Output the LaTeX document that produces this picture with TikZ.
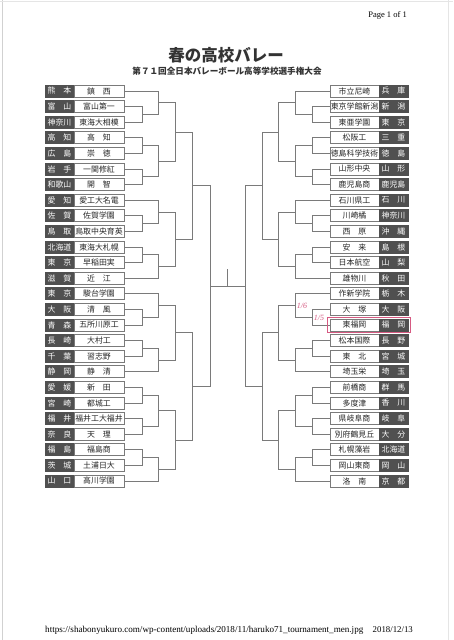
\documentclass[tikz,border=0pt]{standalone}
\usepackage{fontspec}
\setmainfont{Liberation Serif}
\newfontfamily\jp{Noto Sans CJK JP}
\usetikzlibrary{calc}
\definecolor{boxgray}{HTML}{505050}
\definecolor{linegray}{HTML}{7A7A7A}
\definecolor{redc}{HTML}{D65A82}
\tikzset{
  namebox/.style={draw=linegray, line width=0.7pt, fill=white, minimum width=50pt, minimum height=12pt, inner sep=0pt, font=\jp\fontsize{7.9}{8}\selectfont, text=black!85},
  rnamebox/.style={namebox, minimum width=49pt},
  prefbox/.style={fill=boxgray, draw=boxgray, line width=0.7pt, minimum width=29pt, minimum height=12pt, inner sep=0pt, font=\jp\fontsize{7.9}{8}\selectfont, text=white},
  conn/.style={draw=linegray, line width=0.8pt},
  note/.style={text=redc, inner sep=0pt, font=\fontsize{8}{8}\selectfont\itshape},
}
\newcommand\mtch[4]{%
  \coordinate (#1m) at ($(#2)!.5!(#3)$);
  \coordinate (#1) at (#1m -| #4);
  \draw[conn] (#2) -| (#1);
  \draw[conn] (#3) -| (#1);
}
\begin{document}
\begin{tikzpicture}[x=1pt,y=-1pt]
\useasboundingbox (0,0) rectangle (453,640);
\fill[white] (0,0) rectangle (453,640);
% page edges of the scan
\draw[black!18, line width=0.8pt] (2.5,0) -- (2.5,640);
\draw[black!10, line width=0.8pt] (0,1) -- (453,1);
\draw[black!10, line width=0.6pt] (448,0) -- (448,640);

% header
\node[anchor=east, inner sep=0pt, font=\fontsize{8.5}{9}\selectfont] (page) at (407,15) {Page 1 of 1};
\node[inner sep=0pt, font=\jp\bfseries\fontsize{16.5}{17}\selectfont, text=black!80] (title) at (226,55) {春の高校バレー};
\node[inner sep=0pt, font=\jp\bfseries\fontsize{8.6}{9}\selectfont, text=black!80] (sub) at (227,71.5) {第７１回全日本バレーボール高等学校選手権大会};

% left teams
\foreach \i/\p/\n in {1/熊　本/鎮　西, 2/富　山/富山第一, 3/神奈川/東海大相模, 4/高　知/高　知, 5/広　島/崇　徳, 6/岩　手/一関修紅, 7/和歌山/開　智, 8/愛　知/愛工大名電, 9/佐　賀/佐賀学園, 10/鳥　取/鳥取中央育英, 11/北海道/東海大札幌, 12/東　京/早稲田実, 13/滋　賀/近　江, 14/東　京/駿台学園, 15/大　阪/清　風, 16/青　森/五所川原工, 17/長　崎/大村工, 18/千　葉/習志野, 19/静　岡/静　清, 20/愛　媛/新　田, 21/宮　崎/都城工, 22/福　井/福井工大福井, 23/奈　良/天　理, 24/福　島/福島商, 25/茨　城/土浦日大, 26/山　口/高川学園}{
  \node[prefbox] (PL\i) at (59.5,{91+(\i-1)*15.6}) {\p};
  \node[namebox] (L\i) at (99,{91+(\i-1)*15.6}) {\n};
}
% right teams
\foreach \i/\n/\p in {1/市立尼崎/兵　庫, 2/東京学館新潟/新　潟, 3/東亜学園/東　京, 4/松阪工/三　重, 5/徳島科学技術/徳　島, 6/山形中央/山　形, 7/鹿児島商/鹿児島, 8/石川県工/石　川, 9/川崎橘/神奈川, 10/西　原/沖　縄, 11/安　来/島　根, 12/日本航空/山　梨, 13/雄物川/秋　田, 14/作新学院/栃　木, 15/大　塚/大　阪, 16/東福岡/福　岡, 17/松本国際/長　野, 18/東　北/宮　城, 19/埼玉栄/埼　玉, 20/前橋商/群　馬, 21/多度津/香　川, 22/県岐阜商/岐　阜, 23/別府鶴見丘/大　分, 24/札幌藻岩/北海道, 25/岡山東商/岡　山, 26/洛　南/京　都}{
  \node[rnamebox] (R\i) at (354.5,{91+(\i-1)*15.6}) {\n};
  \node[prefbox] (PR\i) at (393.5,{91+(\i-1)*15.6}) {\p};
}

% column positions
\coordinate (xl1) at (142,0); \coordinate (xl2) at (158,0); \coordinate (xl3) at (175,0);
\coordinate (xl4) at (192,0); \coordinate (xl5) at (210,0);
\coordinate (xr1) at (312,0); \coordinate (xr2) at (295,0); \coordinate (xr3) at (278,0);
\coordinate (xr4) at (262,0); \coordinate (xr5) at (245,0);

% left bracket
\mtch{la1}{L2.east}{L3.east}{xl1}
\mtch{lb1}{L1.east}{la1}{xl2}
\mtch{la2}{L4.east}{L5.east}{xl1}
\mtch{la3}{L6.east}{L7.east}{xl1}
\mtch{lb2}{la2}{la3}{xl2}
\mtch{lc1}{lb1}{lb2}{xl3}
\mtch{la4}{L9.east}{L10.east}{xl1}
\mtch{lb3}{L8.east}{la4}{xl2}
\mtch{la5}{L11.east}{L12.east}{xl1}
\mtch{lb4}{la5}{L13.east}{xl2}
\mtch{lc2}{lb3}{lb4}{xl3}
\mtch{ld1}{lc1}{lc2}{xl4}
\mtch{la6}{L15.east}{L16.east}{xl1}
\mtch{lb5}{L14.east}{la6}{xl2}
\mtch{la7}{L17.east}{L18.east}{xl1}
\mtch{lb6}{la7}{L19.east}{xl2}
\mtch{lc3}{lb5}{lb6}{xl3}
\mtch{la8}{L20.east}{L21.east}{xl1}
\mtch{la9}{L22.east}{L23.east}{xl1}
\mtch{lb7}{la8}{la9}{xl2}
\mtch{la10}{L24.east}{L25.east}{xl1}
\mtch{lb8}{la10}{L26.east}{xl2}
\mtch{lc4}{lb7}{lb8}{xl3}
\mtch{ld2}{lc3}{lc4}{xl4}
\mtch{le}{ld1}{ld2}{xl5}

% right bracket
\mtch{ra1}{R2.west}{R3.west}{xr1}
\mtch{rb1}{R1.west}{ra1}{xr2}
\mtch{ra2}{R4.west}{R5.west}{xr1}
\mtch{ra3}{R6.west}{R7.west}{xr1}
\mtch{rb2}{ra2}{ra3}{xr2}
\mtch{rc1}{rb1}{rb2}{xr3}
\mtch{ra4}{R9.west}{R10.west}{xr1}
\mtch{rb3}{R8.west}{ra4}{xr2}
\mtch{ra5}{R11.west}{R12.west}{xr1}
\mtch{rb4}{ra5}{R13.west}{xr2}
\mtch{rc2}{rb3}{rb4}{xr3}
\mtch{rd1}{rc1}{rc2}{xr4}
\mtch{ra6}{R15.west}{R16.west}{xr1}
\mtch{rb5}{R14.west}{ra6}{xr2}
\mtch{ra7}{R17.west}{R18.west}{xr1}
\mtch{rb6}{ra7}{R19.west}{xr2}
\mtch{rc3}{rb5}{rb6}{xr3}
\mtch{ra8}{R20.west}{R21.west}{xr1}
\mtch{ra9}{R22.west}{R23.west}{xr1}
\mtch{rb7}{ra8}{ra9}{xr2}
\mtch{ra10}{R24.west}{R25.west}{xr1}
\mtch{rb8}{ra10}{R26.west}{xr2}
\mtch{rc4}{rb7}{rb8}{xr3}
\mtch{rd2}{rc3}{rc4}{xr4}
\mtch{re}{rd1}{rd2}{xr5}

% final
\coordinate (champ) at (227.5,269);
\draw[conn] (le) -- (re);
\draw[conn] (le -| champ) -- (champ);

% handwritten marks
\node[note] (n6) at (302,306) {1/6};
\node[note] (n5) at (319,318) {1/5};
\draw[redc, line width=0.6pt] ($(R16.north west)+(-2,-1)$) rectangle ($(PR16.south east)+(2,1)$);

% footer
\node[anchor=west, inner sep=0pt, font=\fontsize{9.1}{10}\selectfont] (url) at (45,630) {https://shabonyukuro.com/wp-content/uploads/2018/11/haruko71\_tournament\_men.jpg};
\node[anchor=east, inner sep=0pt, font=\fontsize{8.8}{9}\selectfont] (date) at (413,630) {2018/12/13};
\end{tikzpicture}
\end{document}
